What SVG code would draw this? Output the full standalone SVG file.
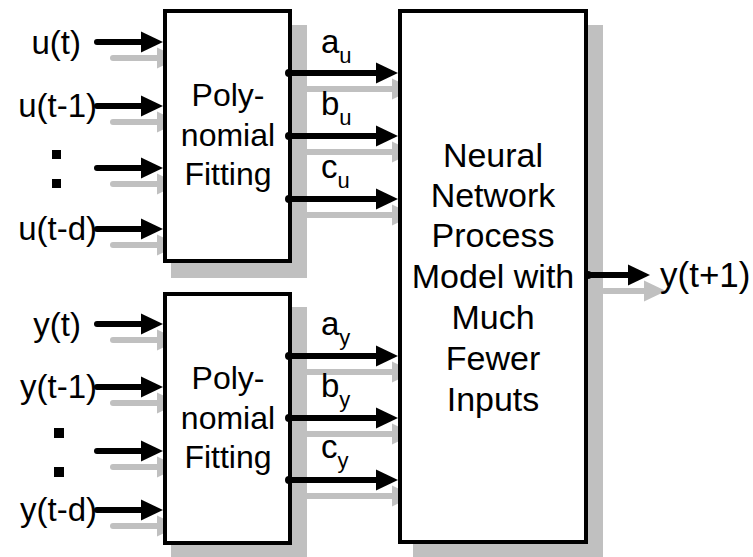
<svg xmlns="http://www.w3.org/2000/svg" width="753" height="557" viewBox="0 0 753 557">
<style>
.shadow{fill:#c0c0c0;stroke:none}
.box{fill:#fff;stroke:#000;stroke-width:4}
.bl{stroke:#000;stroke-width:6;stroke-linecap:round;fill:none}
.gl{stroke:#c0c0c0;stroke-width:6;stroke-linecap:round;fill:none}
.bh{fill:#000}
.gh{fill:#c0c0c0}
text{font-family:"Liberation Sans",Arial,sans-serif;fill:#000}
.lab{font-size:33px}
.mid{font-size:32px;text-anchor:middle}
.nn{font-size:34px;text-anchor:middle}
.sub{font-size:22px}
</style>
<defs>
<g id="ah"><polygon points="0,0 -22,-10.5 -22,10.5"/></g>
</defs>
<!-- shadows -->
<g id="shadows">
<rect class="shadow" x="171" y="25" width="136" height="253"/>
<rect class="shadow" x="171" y="307" width="136" height="252"/>
<rect class="shadow" x="413" y="25" width="190" height="534"/>
</g>
<!-- gray shadow connectors -->
<g id="connectors-shadow">
<line class="gl" x1="113" y1="58" x2="160" y2="58"/><use href="#ah" class="gh" x="179" y="58"/>
<line class="gl" x1="113" y1="122" x2="160" y2="122"/><use href="#ah" class="gh" x="179" y="122"/>
<line class="gl" x1="113" y1="184" x2="160" y2="184"/><use href="#ah" class="gh" x="179" y="184"/>
<line class="gl" x1="113" y1="245" x2="160" y2="245"/><use href="#ah" class="gh" x="179" y="245"/>
<line class="gl" x1="113" y1="340" x2="160" y2="340"/><use href="#ah" class="gh" x="179" y="340"/>
<line class="gl" x1="113" y1="403" x2="160" y2="403"/><use href="#ah" class="gh" x="179" y="403"/>
<line class="gl" x1="113" y1="467" x2="160" y2="467"/><use href="#ah" class="gh" x="179" y="467"/>
<line class="gl" x1="113" y1="526" x2="160" y2="526"/><use href="#ah" class="gh" x="179" y="526"/>
<line class="gl" x1="305" y1="89" x2="396" y2="89"/><use href="#ah" class="gh" x="414" y="89"/>
<line class="gl" x1="305" y1="152" x2="396" y2="152"/><use href="#ah" class="gh" x="414" y="152"/>
<line class="gl" x1="305" y1="215" x2="396" y2="215"/><use href="#ah" class="gh" x="414" y="215"/>
<line class="gl" x1="305" y1="372" x2="396" y2="372"/><use href="#ah" class="gh" x="414" y="372"/>
<line class="gl" x1="305" y1="434" x2="396" y2="434"/><use href="#ah" class="gh" x="414" y="434"/>
<line class="gl" x1="305" y1="496" x2="396" y2="496"/><use href="#ah" class="gh" x="414" y="496"/>
<line class="gl" x1="604" y1="291" x2="648" y2="291"/><use href="#ah" class="gh" x="666" y="291"/>
</g>
<!-- nodes -->
<g id="poly-u">
<rect class="box" x="165" y="11" width="125" height="250"/>
<text class="mid" x="228" y="106">Poly-</text>
<text class="mid" x="228" y="146">nomial</text>
<text class="mid" x="228" y="185">Fitting</text>
</g>
<g id="poly-y">
<rect class="box" x="165" y="294" width="125" height="249"/>
<text class="mid" x="228" y="389">Poly-</text>
<text class="mid" x="228" y="429">nomial</text>
<text class="mid" x="228" y="468">Fitting</text>
</g>
<g id="nn">
<rect class="box" x="400" y="11" width="186" height="531"/>
<text class="nn" x="493" y="167">Neural</text>
<text class="nn" x="493" y="207">Network</text>
<text class="nn" x="493" y="247">Process</text>
<text class="nn" x="493" y="288">Model with</text>
<text class="nn" x="493" y="329">Much</text>
<text class="nn" x="493" y="370">Fewer</text>
<text class="nn" x="493" y="411">Inputs</text>
</g>
<!-- black connectors -->
<g id="connectors">
<line class="bl" x1="97" y1="42" x2="144" y2="42"/><use href="#ah" class="bh" x="163" y="42"/>
<line class="bl" x1="97" y1="106" x2="144" y2="106"/><use href="#ah" class="bh" x="163" y="106"/>
<line class="bl" x1="97" y1="168" x2="144" y2="168"/><use href="#ah" class="bh" x="163" y="168"/>
<line class="bl" x1="97" y1="229" x2="144" y2="229"/><use href="#ah" class="bh" x="163" y="229"/>
<line class="bl" x1="97" y1="324" x2="144" y2="324"/><use href="#ah" class="bh" x="163" y="324"/>
<line class="bl" x1="97" y1="387" x2="144" y2="387"/><use href="#ah" class="bh" x="163" y="387"/>
<line class="bl" x1="97" y1="451" x2="144" y2="451"/><use href="#ah" class="bh" x="163" y="451"/>
<line class="bl" x1="97" y1="510" x2="144" y2="510"/><use href="#ah" class="bh" x="163" y="510"/>
<circle cx="289" cy="73" r="4"/><line class="bl" x1="289" y1="73" x2="380" y2="73"/><use href="#ah" class="bh" x="398" y="73"/>
<circle cx="289" cy="136" r="4"/><line class="bl" x1="289" y1="136" x2="380" y2="136"/><use href="#ah" class="bh" x="398" y="136"/>
<circle cx="289" cy="199" r="4"/><line class="bl" x1="289" y1="199" x2="380" y2="199"/><use href="#ah" class="bh" x="398" y="199"/>
<circle cx="289" cy="356" r="4"/><line class="bl" x1="289" y1="356" x2="380" y2="356"/><use href="#ah" class="bh" x="398" y="356"/>
<circle cx="289" cy="418" r="4"/><line class="bl" x1="289" y1="418" x2="380" y2="418"/><use href="#ah" class="bh" x="398" y="418"/>
<circle cx="289" cy="480" r="4"/><line class="bl" x1="289" y1="480" x2="380" y2="480"/><use href="#ah" class="bh" x="398" y="480"/>
<circle cx="588" cy="275" r="4"/><line class="bl" x1="588" y1="275" x2="632" y2="275"/><use href="#ah" class="bh" x="650" y="275"/>
</g>
<!-- labels -->
<g id="labels">
<text class="lab" x="81" y="54" text-anchor="end">u(t)</text>
<text class="lab" x="97" y="117" text-anchor="end">u(t-1)</text>
<rect x="52" y="150" width="9" height="9"/>
<rect x="52" y="179" width="9" height="9"/>
<text class="lab" x="97" y="240" text-anchor="end">u(t-d)</text>
<text class="lab" x="81" y="336" text-anchor="end">y(t)</text>
<text class="lab" x="97" y="398" text-anchor="end">y(t-1)</text>
<rect x="54" y="428" width="10" height="10"/>
<rect x="54" y="467" width="10" height="10"/>
<text class="lab" x="97" y="521" text-anchor="end">y(t-d)</text>
<text class="lab" x="321" y="53">a<tspan class="sub" dy="10">u</tspan></text>
<text class="lab" x="321" y="115">b<tspan class="sub" dy="10">u</tspan></text>
<text class="lab" x="321" y="178">c<tspan class="sub" dy="10">u</tspan></text>
<text class="lab" x="321" y="335">a<tspan class="sub" dy="10">y</tspan></text>
<text class="lab" x="321" y="397">b<tspan class="sub" dy="10">y</tspan></text>
<text class="lab" x="321" y="458">c<tspan class="sub" dy="10">y</tspan></text>
<text x="660" y="287" style="font-size:35px">y(t+1)</text>
</g>
</svg>
